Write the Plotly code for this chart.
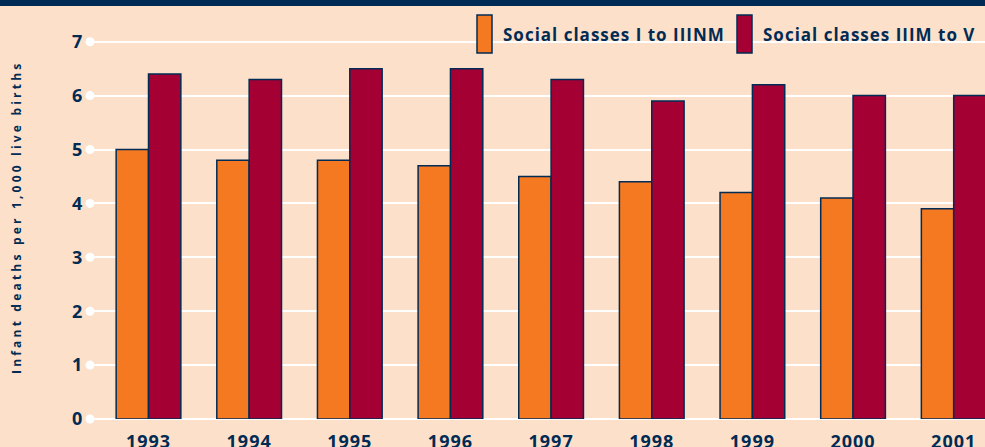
import plotly.graph_objects as go

years = [1993, 1994, 1995, 1996, 1997, 1998, 1999, 2000, 2001]
classes_low = [5.0, 4.8, 4.8, 4.7, 4.5, 4.4, 4.2, 4.1, 3.9]
classes_high = [6.4, 6.3, 6.5, 6.5, 6.3, 5.9, 6.2, 6.0, 6.0]
y_ticks = [0, 1, 2, 3, 4, 5, 6, 7]
series_names = ["Social classes I to IIINM", "Social classes IIIM to V"]
y_title = "Infant deaths per 1,000 live births"

NAVY = "#002b54"
ORANGE = "#f47920"
RED = "#a50034"
BG = "#fde0c9"
FONT = "Open Sans"

W, H = 985, 447
L, R, T, B = 90, 0, 15, 28
PW, PH = W - L - R, H - T - B
PX_PER_YEAR = 100.65
XMIN = 1993 - 58.5 / PX_PER_YEAR
XMAX = XMIN + PW / PX_PER_YEAR


def px_x(px):
    return (px - L) / PW


def px_y(py):
    return (H - B - py) / PH


fig = go.Figure()
fig.add_trace(go.Bar(x=years, y=classes_low, name=series_names[0],
                     marker=dict(color=ORANGE, line=dict(color=NAVY, width=1.5))))
fig.add_trace(go.Bar(x=years, y=classes_high, name=series_names[1],
                     marker=dict(color=RED, line=dict(color=NAVY, width=1.5))))
fig.add_trace(go.Scatter(x=[XMIN] * len(y_ticks), y=y_ticks, mode="markers",
                         marker=dict(color="white", size=9), cliponaxis=False,
                         hoverinfo="skip"))

# top band
fig.add_shape(type="rect", xref="paper", yref="paper", x0=-0.2, x1=1.1,
              y0=px_y(6), y1=px_y(-5), fillcolor=NAVY, line_width=0, layer="above")

# custom legend
legend_items = [(477, ORANGE, series_names[0], 501), (737, RED, series_names[1], 761)]
for sx, col, name, tx in legend_items:
    fig.add_shape(type="rect", xref="paper", yref="paper", x0=px_x(sx), x1=px_x(sx + 15),
                  y0=px_y(53), y1=px_y(15), fillcolor=col, line=dict(color=NAVY, width=1.5),
                  layer="above")
    fig.add_annotation(xref="paper", yref="paper", x=px_x(tx), y=px_y(34),
                       xanchor="left", yanchor="middle", align="left", text=name,
                       showarrow=False,
                       font=dict(family=FONT, size=17, color=NAVY, weight="bold"))

fig.add_annotation(xref="paper", yref="paper", x=px_x(16), y=px_y(218),
                   xanchor="center", yanchor="middle", text=y_title, textangle=-90,
                   showarrow=False,
                   font=dict(family=FONT, size=12, color=NAVY, weight="bold"))

fig.update_layout(
    width=W, height=H,
    margin=dict(l=L, r=R, t=T, b=B, pad=0, autoexpand=False),
    paper_bgcolor=BG, plot_bgcolor=BG,
    barmode="group", bargap=1 - 64.7 / PX_PER_YEAR, bargroupgap=0,
    showlegend=False,
    xaxis=dict(range=[XMIN, XMAX], tickmode="array", tickvals=years,
               ticktext=[str(y) for y in years], showgrid=False, zeroline=False,
               ticks="outside", ticklen=6, tickcolor="rgba(0,0,0,0)",
               tickfont=dict(family=FONT, size=18, color=NAVY, weight="bold"),
               showline=False, fixedrange=True, automargin=False),
    yaxis=dict(range=[0, PH / 53.9], tickmode="array", tickvals=y_ticks,
               showgrid=True, gridcolor="white", gridwidth=2,
               zeroline=True, zerolinecolor="white", zerolinewidth=2,
               ticks="outside", ticklen=2, tickcolor="rgba(0,0,0,0)",
               tickfont=dict(family=FONT, size=18, color=NAVY, weight="bold"),
               showline=False, fixedrange=True, automargin=False),
)

post = """
document.body.style.margin='0';
document.body.style.padding='0';
var gd=document.getElementById('{plot_id}');
gd.querySelectorAll('text').forEach(function(t){t.style.letterSpacing='1px';});
gd.querySelectorAll('.annotation-text').forEach(function(t){
  if(t.textContent.indexOf('Infant')===0){t.style.letterSpacing='3.2px';}
});
"""

fig.write_html("out.html", post_script=post, config={"displayModeBar": False})
